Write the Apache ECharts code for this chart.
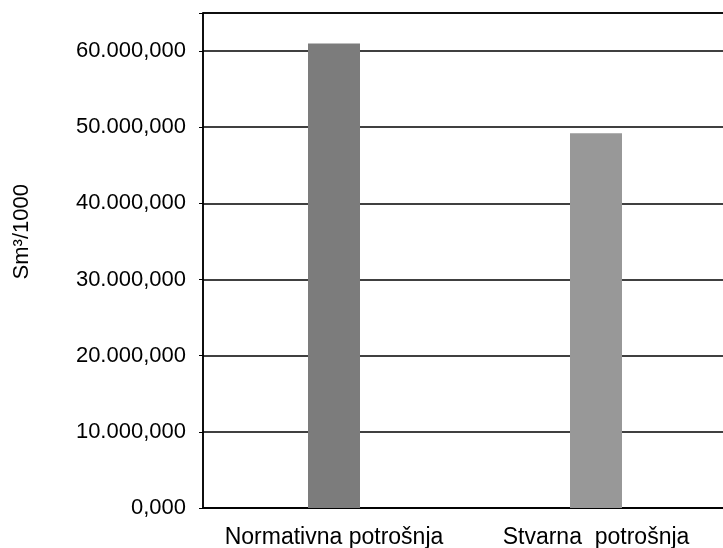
<!DOCTYPE html>
<html>
<head>
<meta charset="utf-8">
<script src="https://cdn.jsdelivr.net/npm/echarts@6/dist/echarts.min.js"></script>
<style>
  html, body { margin: 0; padding: 0; background: #fff; }
  #chart { width: 723px; height: 548px; }
</style>
</head>
<body>
<div id="chart"></div>
<script>
const categories = ['Normativna potrošnja', 'Stvarna  potrošnja']
const values = [61000, 49200]
const barColors = ['#7c7c7c', '#989898']
const yTicks = [0, 10000, 20000, 30000, 40000, 50000, 60000]

// 60000 -> "60.000,000"
function fmt (v) {
  const s = String(Math.round(v)).replace(/\B(?=(\d{3})+(?!\d))/g, '.')
  return s + ',000'
}

const chart = echarts.init(document.getElementById('chart'))
const font = '"Liberation Sans", Arial, sans-serif'

const option = {
  animation: false,
  backgroundColor: '#fff',
  grid: {
    left: 203,
    top: 13,
    bottom: 40,
    width: 524,
    outerBoundsMode: 'none',
    show: true,
    borderColor: '#000',
    borderWidth: 1.5,
    backgroundColor: 'transparent'
  },
  graphic: [{
    type: 'text',
    left: 11,
    top: 184,
    rotation: Math.PI / 2,
    style: {
      text: 'Sm³/1000',
      font: '22px ' + font,
      fill: '#000'
    }
  }],
  xAxis: {
    type: 'category',
    data: categories,
    axisLine: { lineStyle: { color: '#000', width: 1.5 } },
    axisTick: { show: false },
    axisLabel: {
      interval: 0,
      color: '#000',
      fontFamily: font,
      fontSize: 23,
      margin: 18
    }
  },
  yAxis: {
    type: 'value',
    min: 0,
    max: 65000,
    interval: 10000,
    axisLine: { show: true, lineStyle: { color: '#000', width: 1.5 } },
    axisTick: { show: true, length: 4, lineStyle: { color: '#000' } },
    splitLine: {
      show: true,
      lineStyle: { color: '#000', width: 1.5 }
    },
    axisLabel: {
      color: '#000',
      fontFamily: font,
      fontSize: 22,
      margin: 17,
      formatter: function (v) {
        return yTicks.indexOf(v) >= 0 ? fmt(v) : ''
      }
    }
  },
  series: [{
    type: 'bar',
    barWidth: 52,
    data: values.map((v, i) => ({ value: v, itemStyle: { color: barColors[i] } }))
  }]
}

chart.setOption(option)
</script>
</body>
</html>
